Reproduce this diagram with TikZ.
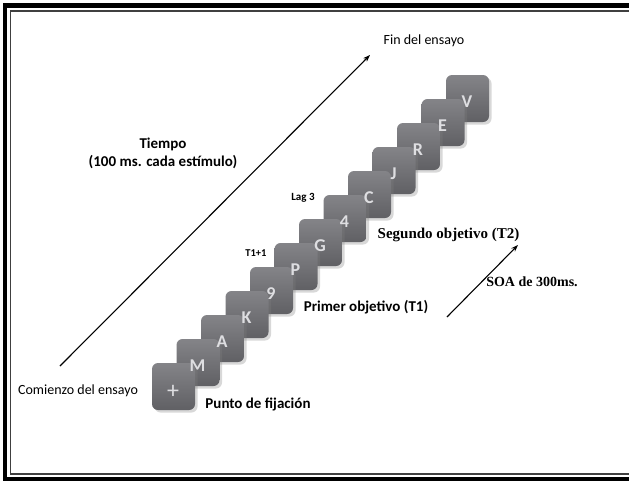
\documentclass[tikz,border=0pt]{standalone}
\usepackage{fontspec}
\setmainfont{Carlito}
\newfontfamily\serifb{Liberation Serif}
\usetikzlibrary{arrows.meta,shadows}
\definecolor{boxgray}{RGB}{96,96,100}
\definecolor{boxtop}{RGB}{132,132,136}
\definecolor{lettercol}{RGB}{222,222,225}
\begin{document}
\begin{tikzpicture}[x=1pt,y=-1pt,
  stim/.style={rectangle, rounded corners=6pt, minimum width=43pt, minimum height=47pt,
    inner sep=0pt, top color=boxtop, bottom color=boxgray,
    drop shadow={shadow xshift=2.5pt,shadow yshift=-2.5pt,opacity=0.3}},
  letter/.style={text=lettercol, font=\bfseries\fontsize{18}{20}\selectfont, inner sep=0pt},
  lbl/.style={font=\fontsize{14}{16}\selectfont, inner sep=0pt},
  blbl/.style={font=\bfseries\fontsize{15}{18}\selectfont, inner sep=0pt},
  slbl/.style={font=\serifb\bfseries\fontsize{15}{18}\selectfont, inner sep=0pt},
  tiny/.style={font=\bfseries\fontsize{10.5}{12}\selectfont, inner sep=0pt},
  arr/.style={-{Stealth[length=7pt,width=5pt]}, line width=1.1pt}]
\useasboundingbox (0,0) rectangle (629,480);
\fill[white] (0,0) rectangle (629,480);
% frame (open on the right)
\draw[line width=4.5pt] (629,5.5) -- (5,5.5) -- (5,479) -- (629,479);
\draw[line width=1.3pt, black!75] (629,11) -- (10.5,11) -- (10.5,474) -- (629,474);
% stimuli boxes, back to front
\foreach \i in {12,11,...,0} {
  \node[stim] (b\i) at ({173.5+24.5*\i},{386.5-24*\i}) {};
}
\foreach \i/\l in {1/M,2/A,3/K,4/9,5/P,6/G,7/4,8/C,9/J,10/R,11/E,12/V} {
  \node[letter] (l\i) at ([xshift=-0.5pt,yshift=-3.5pt]b\i.center) {\l};
}
\node[letter, font=\fontsize{24}{24}\selectfont] (l0) at ([xshift=-0.5pt,yshift=-5pt]b0.center) {+};
% time arrow
\coordinate (tstart) at (60,366);
\coordinate (tend) at (370,55);
\draw[arr] (tstart) -- (tend);
% SOA arrow
\coordinate (sstart) at (447,317);
\coordinate (send) at (518,245);
\draw[arr] (sstart) -- (send);
% labels
\node[lbl] (fin) at (424,41) {Fin del ensayo};
\node[lbl] (com) at (78,391) {Comienzo del ensayo};
\node[blbl, align=center] (tiempo) at (163,153) {Tiempo\\(100 ms. cada estímulo)};
\node[tiny, font=\bfseries\fontsize{11}{12}\selectfont] (lag) at (303,198) {Lag 3};
\node[tiny] (t1p1) at (256,253) {T1+1};
\node[slbl] (seg) at (448.5,235) {Segundo objetivo (T2)};
\node[blbl] (prim) at (366,307) {Primer objetivo (T1)};
\node[slbl, font=\serifb\bfseries\fontsize{14}{16}\selectfont] (soa) at (532,282) {SOA de 300ms.};
\node[blbl] (punto) at (258,404) {Punto de fijación};
\end{tikzpicture}
\end{document}
